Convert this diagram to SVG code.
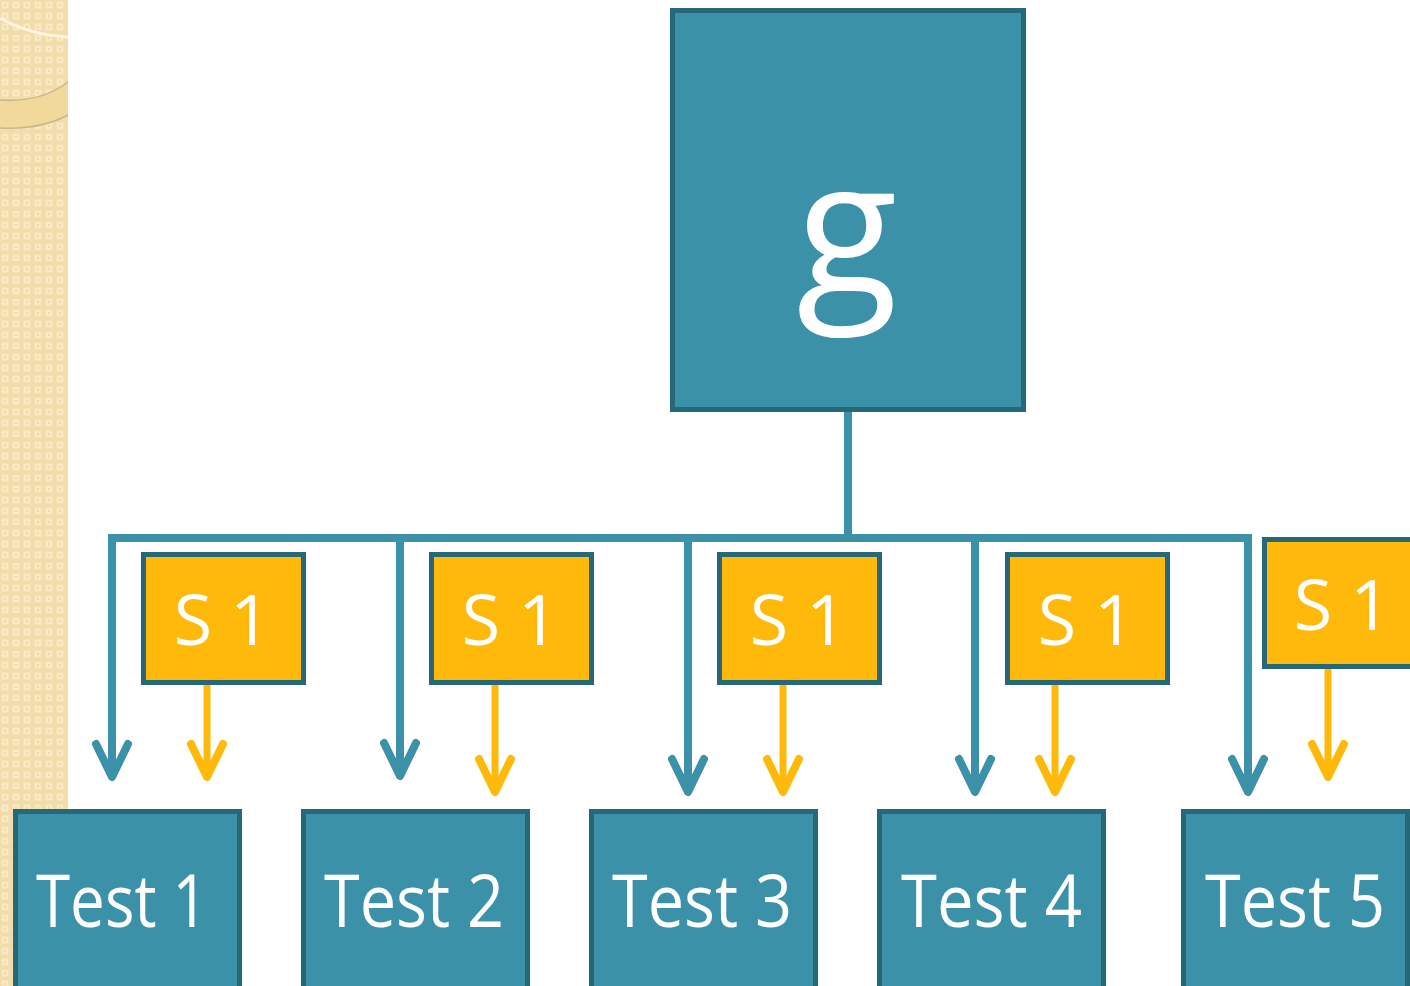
<svg xmlns="http://www.w3.org/2000/svg" width="1410" height="986" viewBox="0 0 1410 986">
<style>
.teal{fill:#3A91A8;stroke:#276878;stroke-width:5}
.yel{fill:#FFB90B;stroke:#276878;stroke-width:5}
.lbl{font-family:"Open Sans","Noto Sans",sans-serif;fill:#FFFFFF}
.tl{stroke:#3A91A8;stroke-width:8;fill:none}
.yl{stroke:#FFB90B;stroke-width:7;fill:none}
</style>
<defs>
<pattern id="chk" width="11" height="11" patternUnits="userSpaceOnUse">
<rect width="11" height="11" fill="#F1DCAA"/>
<rect x="1.5" y="1.5" width="7" height="7" fill="#F8E8C3"/>
<rect x="4" y="4" width="2" height="2" fill="#EED8A6"/>
</pattern>
<marker id="ta" markerUnits="userSpaceOnUse" markerWidth="80" markerHeight="80" refX="0" refY="0" orient="auto" overflow="visible">
<path d="M-33,-16 L0,0 L-33,16" fill="none" stroke="#3A91A8" stroke-width="8" stroke-linecap="round" stroke-linejoin="round"/>
</marker>
<marker id="ya" markerUnits="userSpaceOnUse" markerWidth="80" markerHeight="80" refX="0" refY="0" orient="auto" overflow="visible">
<path d="M-33,-16 L0,0 L-33,16" fill="none" stroke="#FFB90B" stroke-width="8" stroke-linecap="round" stroke-linejoin="round"/>
</marker>
</defs>
<rect width="1410" height="986" fill="#FFFFFF"/>
<g id="background-strip">
<rect x="0" y="0" width="68" height="986" fill="url(#chk)"/>
<path d="M0,18 Q30,35 68,37" fill="none" stroke="#FFF6DF" stroke-width="3"/>
<path d="M0,100 Q40,103 68,82 L68,115 Q40,130 0,128 Z" fill="#F1D89B" stroke="none"/>
<path d="M0,100 Q40,103 68,82" fill="none" stroke="#C9B68E" stroke-width="1.5"/>
<path d="M68,115 Q40,130 0,128" fill="none" stroke="#C9B68E" stroke-width="1.5"/>
</g>
<g id="connectors">
<path class="tl" d="M848,411 V538 M108,538 H1252"/>
<path class="tl" d="M112,538 V777" marker-end="url(#ta)"/>
<path class="tl" d="M400,538 V776" marker-end="url(#ta)"/>
<path class="tl" d="M688,538 V792" marker-end="url(#ta)"/>
<path class="tl" d="M975,538 V792" marker-end="url(#ta)"/>
<path class="tl" d="M1248,538 V792" marker-end="url(#ta)"/>
<path class="yl" d="M207,685 V777" marker-end="url(#ya)"/>
<path class="yl" d="M495,685 V792" marker-end="url(#ya)"/>
<path class="yl" d="M783,685 V792" marker-end="url(#ya)"/>
<path class="yl" d="M1055,685 V792" marker-end="url(#ya)"/>
<path class="yl" d="M1328,668 V777" marker-end="url(#ya)"/>
</g>
<g id="node-g">
<rect class="teal" x="672.5" y="10.5" width="351" height="399"/>
<text class="lbl" x="847" y="294" font-size="186" text-anchor="middle">g</text>
</g>
<g id="node-s1-1">
<rect class="yel" x="143.5" y="554.5" width="160" height="128"/>
<text class="lbl" x="222" y="645" font-size="70" text-anchor="middle">S 1</text>
</g>
<g id="node-s1-2">
<rect class="yel" x="431.5" y="554.5" width="160" height="128"/>
<text class="lbl" x="510" y="645" font-size="70" text-anchor="middle">S 1</text>
</g>
<g id="node-s1-3">
<rect class="yel" x="719.5" y="554.5" width="160" height="128"/>
<text class="lbl" x="798" y="645" font-size="70" text-anchor="middle">S 1</text>
</g>
<g id="node-s1-4">
<rect class="yel" x="1007.5" y="554.5" width="160" height="128"/>
<text class="lbl" x="1086" y="645" font-size="70" text-anchor="middle">S 1</text>
</g>
<g id="node-s1-5">
<rect class="yel" x="1264.5" y="539.5" width="160" height="127"/>
<text class="lbl" x="1342" y="630" font-size="70" text-anchor="middle">S 1</text>
</g>
<g id="node-test1">
<rect class="teal" x="15.5" y="811.5" width="224" height="190"/>
<text class="lbl" x="36" y="927" font-size="74" textLength="172" lengthAdjust="spacingAndGlyphs">Test 1</text>
</g>
<g id="node-test2">
<rect class="teal" x="303.5" y="811.5" width="224" height="190"/>
<text class="lbl" x="324" y="927" font-size="74" textLength="180" lengthAdjust="spacingAndGlyphs">Test 2</text>
</g>
<g id="node-test3">
<rect class="teal" x="591.5" y="811.5" width="224" height="190"/>
<text class="lbl" x="612" y="927" font-size="74" textLength="180" lengthAdjust="spacingAndGlyphs">Test 3</text>
</g>
<g id="node-test4">
<rect class="teal" x="879.5" y="811.5" width="224" height="190"/>
<text class="lbl" x="901" y="927" font-size="74" textLength="181" lengthAdjust="spacingAndGlyphs">Test 4</text>
</g>
<g id="node-test5">
<rect class="teal" x="1183.5" y="811.5" width="224" height="190"/>
<text class="lbl" x="1205" y="927" font-size="74" textLength="180" lengthAdjust="spacingAndGlyphs">Test 5</text>
</g>
</svg>
